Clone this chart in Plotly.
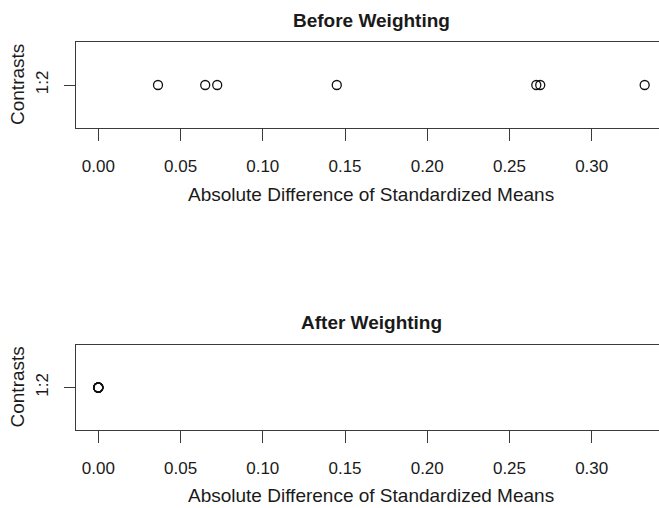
import plotly.graph_objects as go

# Data
contrast_labels = ["1:2"]
before_values = [0.0363, 0.0650, 0.0723, 0.1450, 0.2663, 0.2687, 0.3322]
after_values = [0.0, 0.0, 0.0, 0.0, 0.0, 0.0, 0.0]
x_tick_vals = [0.00, 0.05, 0.10, 0.15, 0.20, 0.25, 0.30]
x_tick_text = ["0.00", "0.05", "0.10", "0.15", "0.20", "0.25", "0.30"]
panel_titles = ["Before Weighting", "After Weighting"]
x_label = "Absolute Difference of Standardized Means"
y_label = "Contrasts"

W, H = 659, 508
FONT = "Liberation Sans, Arial, Helvetica, sans-serif"
LINE = "#3a3a3a"
TXT = "#1a1a1a"

x_left_px, x0_px, px_per_unit = 76, 98.3, 1644.7
x_range = [-(x0_px - x_left_px) / px_per_unit, (W - x0_px) / px_per_unit]
center_px = 371

def py(v):
    return 1 - v / H

fig = go.Figure()

panels = [
    dict(vals=before_values, top=42, bot=128, title_y=20, xlab_y=194, ax=""),
    dict(vals=after_values, top=345, bot=430, title_y=322, xlab_y=495, ax="2"),
]

for i, p in enumerate(panels):
    fig.add_trace(go.Scatter(
        x=p["vals"], y=[contrast_labels[0]] * len(p["vals"]),
        mode="markers",
        marker=dict(symbol="circle-open", size=9, color="#111",
                    line=dict(width=1.3, color="#111")),
        xaxis="x" + p["ax"], yaxis="y" + p["ax"],
        showlegend=False, hoverinfo="x",
    ))
    xa = dict(
        domain=[x_left_px / W, 1], range=x_range, anchor="y" + p["ax"],
        tickmode="array", tickvals=x_tick_vals, ticktext=x_tick_text,
        ticks="outside", ticklen=12, tickwidth=1.2, tickcolor=LINE,
        showline=True, linecolor=LINE, linewidth=1.3, mirror=True,
        showgrid=False, zeroline=False, ticklabelstandoff=10,
        tickfont=dict(family=FONT, size=17, color=TXT),
    )
    ya = dict(
        domain=[py(p["bot"]), py(p["top"])], anchor="x" + p["ax"],
        type="category", range=[-1, 1],
        ticks="outside", ticklen=11, tickwidth=1.2, tickcolor=LINE,
        showline=True, linecolor=LINE, linewidth=1.3, mirror=False,
        showgrid=False, zeroline=False, tickangle=-90, ticklabelstandoff=9,
        tickfont=dict(family=FONT, size=17, color=TXT),
    )
    fig.layout["xaxis" + p["ax"]] = xa
    fig.layout["yaxis" + p["ax"]] = ya

    fig.add_annotation(text="<b>" + panel_titles[i] + "</b>", xref="paper", yref="paper",
                       x=center_px / W, y=py(p["title_y"]), showarrow=False,
                       xanchor="center", yanchor="middle",
                       font=dict(family=FONT, size=19, color=TXT))
    fig.add_annotation(text=x_label, xref="paper", yref="paper",
                       x=center_px / W, y=py(p["xlab_y"]), showarrow=False,
                       xanchor="center", yanchor="middle",
                       font=dict(family=FONT, size=19, color=TXT))
    fig.add_annotation(text=y_label, xref="paper", yref="paper",
                       x=17 / W, y=py((p["top"] + p["bot"]) / 2), showarrow=False,
                       textangle=-90, xanchor="center", yanchor="middle",
                       font=dict(family=FONT, size=19, color=TXT))

fig.update_layout(
    width=W, height=H, margin=dict(l=0, r=0, t=0, b=0),
    paper_bgcolor="white", plot_bgcolor="white",
)

fig.write_html("out.html")
